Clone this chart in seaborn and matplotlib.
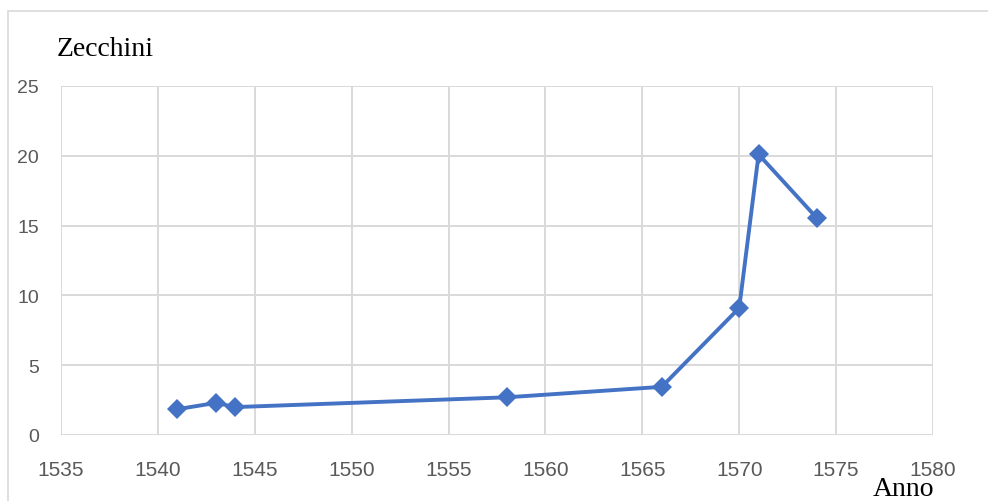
import matplotlib.pyplot as plt
import matplotlib.patches as mpatches
import seaborn as sns
import pandas as pd

# Data
anni = [1541, 1543, 1544, 1558, 1566, 1570, 1571, 1574]
zecchini = [1.85, 2.3, 2.0, 2.7, 3.45, 9.1, 20.1, 15.55]

df = pd.DataFrame({"Anno": anni, "Zecchini": zecchini})

sns.set_theme(style="whitegrid")
plt.rcParams["font.family"] = ["Liberation Sans", "DejaVu Sans"]

fig = plt.figure(figsize=(9.88, 5.02), dpi=100)
ax = fig.add_axes([61 / 988, 1 - 436 / 502, 872 / 988, 349 / 502])

sns.lineplot(
    data=df, x="Anno", y="Zecchini", ax=ax,
    color="#4472C4", linewidth=2.8,
    marker="D", markersize=10, markeredgewidth=0,
)

ax.set_xlim(1535, 1580)
ax.set_ylim(0, 25)
ax.set_xticks(range(1535, 1581, 5))
ax.set_yticks(range(0, 26, 5))
ax.grid(True, color="#d9d9d9", linewidth=1.4)
for s in ax.spines.values():
    s.set_visible(False)
ax.tick_params(axis="both", length=0, labelcolor="#595959")
ax.tick_params(axis="y", labelsize=14, pad=16)
ax.tick_params(axis="x", labelsize=15, pad=18)
ax.set_xlabel("")
ax.set_ylabel("")

# Axis titles
fig.text(57 / 988, 1 - 49 / 502, "Zecchini", family=["Liberation Serif", "DejaVu Serif"],
         fontsize=20, color="black", ha="left", va="center")
fig.text(903 / 988, 1 - 490 / 502, "Anno", family=["Liberation Serif", "DejaVu Serif"],
         fontsize=20, color="black", ha="center", va="center")

# Chart border
border = mpatches.Rectangle((8 / 988, -0.1), 1.2, 1 - 12 / 502 + 0.1,
                            transform=fig.transFigure, fill=False,
                            edgecolor="#d9d9d9", linewidth=1.2)
fig.patches.append(border)

fig.savefig("out.png", dpi=100)
